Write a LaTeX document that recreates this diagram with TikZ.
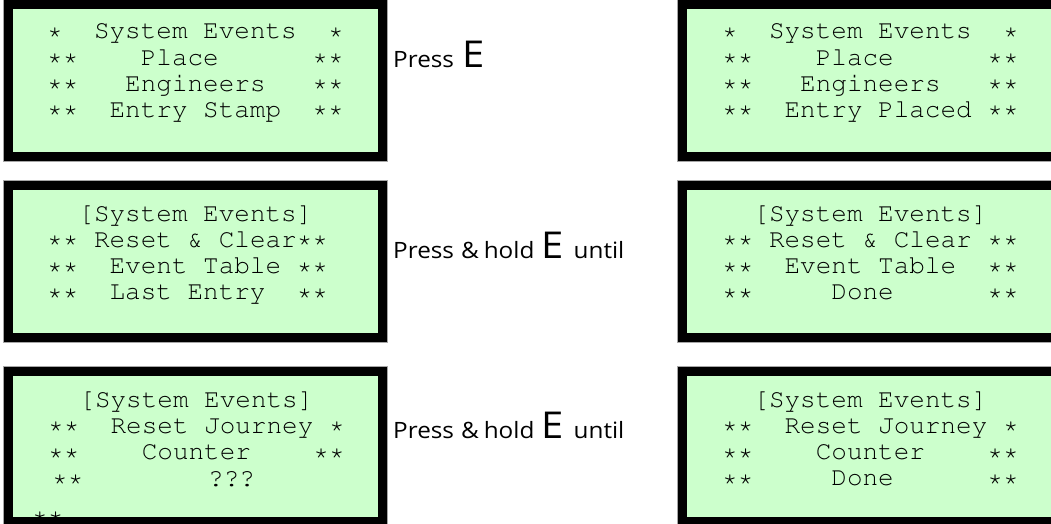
\documentclass[tikz,border=0pt]{standalone}
\usepackage[T1]{fontenc}
\usepackage{fontspec}
\newfontfamily\labelfont[FakeStretch=1.08]{Open Sans}
\newcommand\lcdfont{\fontencoding{T1}\fontfamily{pcr}\fontseries{m}\fontshape{n}\fontsize{26}{26}\selectfont}
\newcommand\bigE{{\fontsize{37}{37}\selectfont E}}
\definecolor{lcdgreen}{RGB}{204,255,204}
\tikzset{
  lcdbox/.style={draw=black, fill=lcdgreen, line width=9pt, minimum width=374pt, minimum height=152pt, inner sep=0pt, outer sep=0pt},
  lcdtext/.style={font=\lcdfont, anchor=base west, inner sep=0pt},
  frameline/.style={draw=black!35, line width=0.8pt},
  presslabel/.style={font=\labelfont\fontsize{22.5}{22.5}\selectfont, anchor=base west, inner sep=0pt},
}
\begin{document}
\begin{tikzpicture}[x=1pt,y=-1pt]
\useasboundingbox (0,0) rectangle (1051,524);
\clip (0,0) rectangle (1051,524);
\fill[white] (0,0) rectangle (1051,524);

% LCD boxes
\node[lcdbox] (box1) at (195.5,80.5) {};
\node[lcdbox] (box2) at (869.5,80.5) {};
\node[lcdbox] (box3) at (195.5,261.5) {};
\node[lcdbox] (box4) at (869.5,261.5) {};
\node[lcdbox, minimum height=150pt] (box5) at (195.5,446.5) {};
\node[lcdbox, minimum height=150pt] (box6) at (869.5,446.5) {};
\foreach \b in {box1,box2,box3,box4,box5,box6}
  \draw[frameline] ([shift={(-5,-5)}]\b.north west) rectangle ([shift={(5,5)}]\b.south east);

% box 1
\foreach \t [count=\i] in {{*~~System~Events~~*},{**~~~~Place~~~~~~**},{**~~~Engineers~~~**},{**~~Entry~Stamp~~**}}
  \node[lcdtext] (ta-\i) at (47,{39+26.1*(\i-1)}) {\t};
% box 2
\foreach \t [count=\i] in {{*~~System~Events~~*},{**~~~~Place~~~~~~**},{**~~~Engineers~~~**},{**~~Entry~Placed~**}}
  \node[lcdtext] (tb-\i) at (722,{39+26.1*(\i-1)}) {\t};
% box 3
\foreach \t [count=\i] in {{~~[System~Events]},{**~Reset~\&~Clear**},{**~~Event~Table~**},{**~~Last~Entry~~**}}
  \node[lcdtext] (tc-\i) at (47,{221+26.3*(\i-1)}) {\t};
% box 4
\foreach \t [count=\i] in {{~~[System~Events]},{**~Reset~\&~Clear~**},{**~~Event~Table~~**},{**~~~~~Done~~~~~~**}}
  \node[lcdtext] (td-\i) at (722,{221+26.3*(\i-1)}) {\t};
% box 5
\foreach \t [count=\i] in {{~~[System~Events]},{**~~Reset~Journey~*},{**~~~~Counter~~~~**}}
  \node[lcdtext] (te-\i) at (48,{407+26.3*(\i-1)}) {\t};
\node[lcdtext] (te-4) at (52,486) {**~~~~~~~~???};
\begin{scope}
  \clip (13,376) rectangle (378,516);
  \node[lcdtext] (te-5) at (32,523) {**};
\end{scope}
% box 6
\foreach \t [count=\i] in {{~~[System~Events]},{**~~Reset~Journey~*},{**~~~~Counter~~~~**},{**~~~~~Done~~~~~~**}}
  \node[lcdtext] (tf-\i) at (722,{407+26.3*(\i-1)}) {\t};

% labels
\node[presslabel] (lab1) at (393,68) {Press\hspace{8pt}\bigE};
\node[presslabel] (lab2) at (393,258) {Press\hspace{7pt}\&\hspace{5pt}hold\hspace{7pt}\bigE\hspace{10pt}until};
\node[presslabel] (lab3) at (393,438) {Press\hspace{7pt}\&\hspace{5pt}hold\hspace{7pt}\bigE\hspace{10pt}until};
\end{tikzpicture}
\end{document}
